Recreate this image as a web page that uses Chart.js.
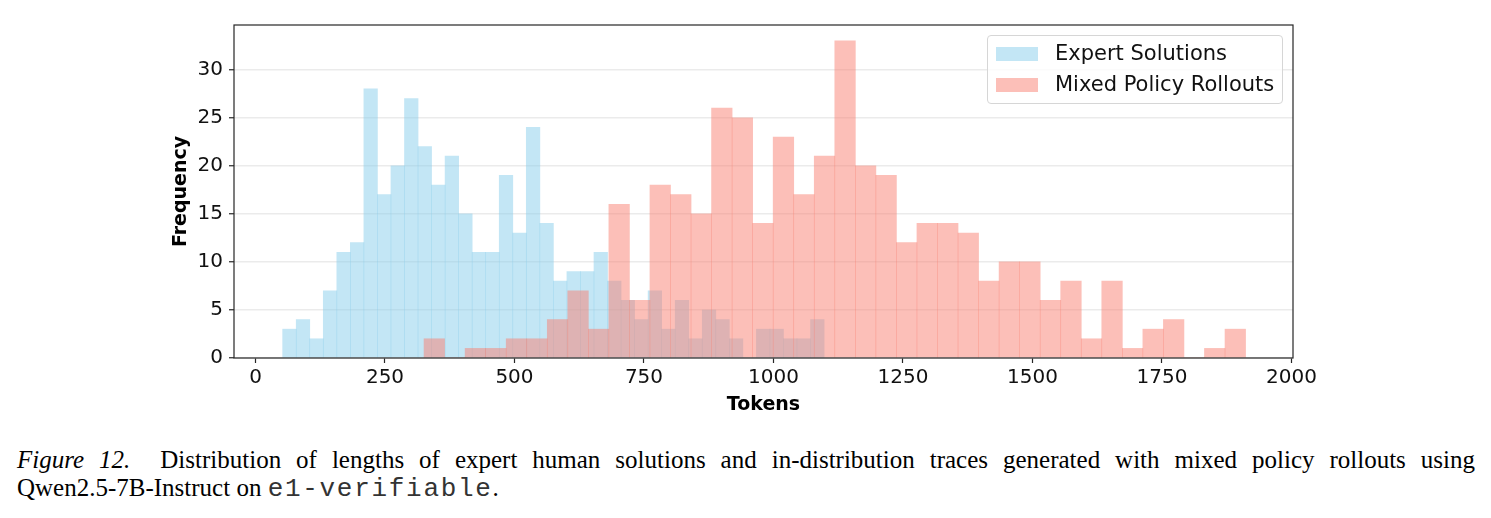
<!DOCTYPE html>
<html>
<head>
<meta charset="utf-8">
<script src="https://cdn.jsdelivr.net/npm/chart.js@4.4.0/dist/chart.umd.min.js"></script>
<style>
  body { margin: 0; background: #fff; }
  #wrap { position: relative; width: 1491px; height: 518px; overflow: hidden; }
  #grafica { position: absolute; left: 0; top: 0; }
  .leyenda {
    position: absolute; left: 987px; top: 35px; width: 294px; height: 67px;
    border: 1px solid #d6d6d6; border-radius: 4px; background: rgba(255,255,255,0.8);
    font-family: "DejaVu Sans", sans-serif; font-size: 21px; color: #111;
  }
  .fila { position: absolute; left: 8px; height: 24px; line-height: 24px; white-space: nowrap; }
  .fila span.caja { display: inline-block; width: 42px; height: 14px; vertical-align: -1px; margin-right: 17px; }
  .caption {
    position: absolute; left: 17px; top: 446px; width: 1458px;
    font-family: "Liberation Serif", "Times New Roman", serif; font-size: 25px; line-height: 28px; color: #000;
  }
  .l1 { text-align: justify; text-align-last: justify; white-space: nowrap; }
  .mono { font-family: "Liberation Mono", monospace; font-size: 26px; letter-spacing: 1.7px; line-height: 1; color: #333; }
</style>
</head>
<body>
<div id="wrap">
  <canvas id="grafica" width="1491" height="420"></canvas>
  <div class="leyenda">
    <div class="fila" style="top:5px"><span class="caja" style="background:rgba(135,206,235,0.5)"></span>Expert Solutions</div>
    <div class="fila" style="top:36px"><span class="caja" style="background:rgba(250,128,114,0.5)"></span>Mixed Policy Rollouts</div>
  </div>
  <div class="caption">
    <div class="l1"><i>Figure 12.</i>&nbsp; Distribution of lengths of expert human solutions and in-distribution traces generated with mixed policy rollouts using</div>
    <div>Qwen2.5-7B-Instruct on <span class="mono">e1-verifiable</span>.</div>
  </div>
</div>
<script>
(() => {

    // histogram bins (tokens), 40 bins each
    const expertBinStart = 52.5;
    const expertBinWidth = 26.13;
    const expertCounts = [3, 4, 2, 7, 11, 12, 28, 17, 20, 27, 22, 18, 21, 15, 11, 11, 19, 13, 24, 14,
                          8, 9, 9, 11, 8, 6, 4, 7, 3, 6, 2, 5, 4, 2, 0, 3, 3, 2, 2, 4];

    const mixedBinStart = 325.4;
    const mixedBinWidth = 39.65;
    const mixedCounts = [2, 0, 1, 1, 2, 2, 4, 7, 3, 16, 6, 18, 17, 15, 26, 25, 14, 23, 17, 21,
                         33, 20, 19, 12, 14, 14, 13, 8, 10, 10, 6, 8, 2, 8, 1, 3, 4, 0, 1, 3];

    const xTicks = [0, 250, 500, 750, 1000, 1250, 1500, 1750, 2000];
    const yTicks = [0, 5, 10, 15, 20, 25, 30];

    const xMin = -41.5;
    const xMax = 2003;
    const yMax = 34.65;

    function toPoints(start, width, counts) {
        return counts.map((c, i) => ({ x: start + width * (i + 0.5), y: c }));
    }

    const marco = {
        id: 'marco',
        afterDraw(chart) {
            const { ctx, chartArea } = chart;
            ctx.save();
            ctx.strokeStyle = '#262626';
            ctx.lineWidth = 1.2;
            ctx.strokeRect(chartArea.left, chartArea.top, chartArea.right - chartArea.left, chartArea.bottom - chartArea.top);
            ctx.restore();
        }
    };

    const fuente = { family: '"DejaVu Sans", sans-serif', size: 20 };
    const fuenteTitulo = { family: '"DejaVu Sans", sans-serif', size: 19, weight: 'bold' };

    new Chart(document.getElementById('grafica'), {
        type: 'bar',
        data: {
            datasets: [
                {
                    label: 'Expert Solutions',
                    data: toPoints(expertBinStart, expertBinWidth, expertCounts),
                    backgroundColor: 'rgba(135,206,235,0.5)',
                    borderWidth: 0,
                    xAxisID: 'x',
                    order: 1
                },
                {
                    label: 'Mixed Policy Rollouts',
                    data: toPoints(mixedBinStart, mixedBinWidth, mixedCounts),
                    backgroundColor: 'rgba(250,128,114,0.5)',
                    borderWidth: 0,
                    xAxisID: 'x2',
                    order: 0
                }
            ]
        },
        options: {
            responsive: false,
            animation: false,
            grouped: false,
            barPercentage: 1,
            categoryPercentage: 1,
            layout: { padding: { left: 0, top: 25, right: 198, bottom: 0 } },
            plugins: { legend: { display: false }, tooltip: { enabled: false } },
            scales: {
                x: {
                    type: 'linear',
                    min: xMin,
                    max: xMax,
                    offset: false,
                    afterBuildTicks: (scale) => { scale.ticks = xTicks.map(v => ({ value: v })); },
                    afterFit: (scale) => { scale.height = 62; },
                    border: { display: false },
                    grid: { offset: false, drawOnChartArea: false, drawTicks: true, tickLength: 5, tickColor: '#262626', tickWidth: 1.2 },
                    ticks: { color: '#111', font: fuente, padding: 3, maxRotation: 0, autoSkip: false, callback: (v) => String(v) },
                    title: { display: true, text: 'Tokens', color: '#000', font: fuenteTitulo, padding: { top: 0, bottom: 4 } }
                },
                x2: {
                    type: 'linear',
                    display: false,
                    min: xMin,
                    max: xMax,
                    offset: false,
                    grid: { offset: false }
                },
                y: {
                    type: 'linear',
                    min: 0,
                    max: yMax,
                    afterBuildTicks: (scale) => { scale.ticks = yTicks.map(v => ({ value: v })); },
                    afterFit: (scale) => { scale.width = 234; },
                    border: { display: false },
                    grid: { color: '#ebebeb', lineWidth: 1.5, tickLength: 5, tickColor: '#262626', tickWidth: 1.2 },
                    ticks: { color: '#111', font: fuente, padding: 6, callback: (v) => String(v) },
                    title: { display: true, text: 'Frequency', color: '#000', font: fuenteTitulo, padding: { top: 170, bottom: 0 } }
                }
            }
        },
        plugins: [marco]
    });

})();
</script>
</body>
</html>
